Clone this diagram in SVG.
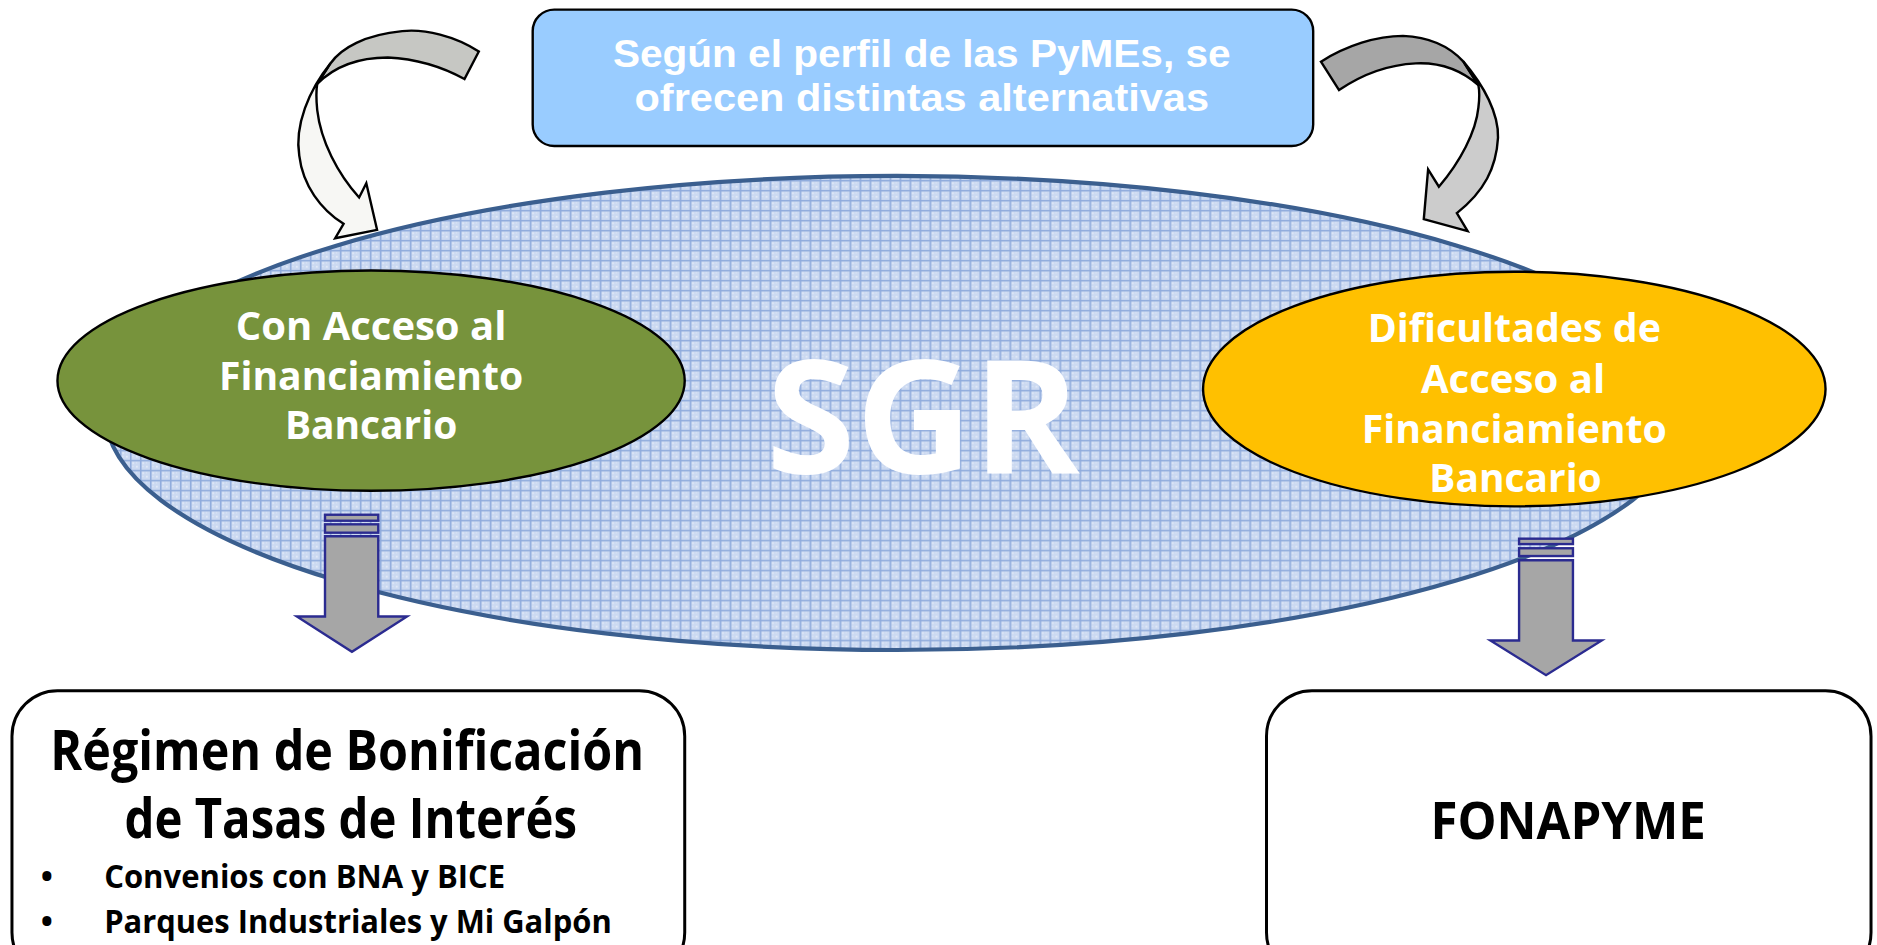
<svg xmlns="http://www.w3.org/2000/svg" width="1877" height="945" viewBox="0 0 1877 945">
<defs>
<pattern id="grid" patternUnits="userSpaceOnUse" width="8.35" height="8.35">
<rect width="8.35" height="8.35" fill="#cbd9f1"/>
<path d="M2 2h1.5v1.5h-1.5zM5 5h1.5v1.5h-1.5zM5 2h1v1h-1zM2 5h1v1h-1z" fill="#e2eaf8"/>
<path d="M0 0.65H8.35M0.65 0V8.35" stroke="#8fabdc" stroke-width="1.3"/>
</pattern>
<style>
.w{fill:#fff;font-family:"Open Sans","Liberation Sans",sans-serif;font-weight:bold;text-anchor:middle}
.wl{fill:#fff;font-family:"Liberation Sans","Open Sans",sans-serif;font-weight:bold;text-anchor:middle}
.b{fill:#000;font-family:"Open Sans","Liberation Sans",sans-serif;font-weight:bold}
.dn{fill:#a6a6a6;stroke:#2b2b90;stroke-width:2}
.ca{stroke:#000;stroke-width:2;stroke-linejoin:miter}
</style>
</defs>
<rect width="1877" height="945" fill="#fff"/>
<g transform="scale(1.19707)">
<g id="sgr">
<ellipse cx="749" cy="345" rx="661" ry="198" fill="url(#grid)" stroke="#3b5f8f" stroke-width="3.5"/>
<text class="w" x="771" y="395" font-size="132" textLength="262" lengthAdjust="spacingAndGlyphs">SGR</text>
</g>
<g id="top-box">
<rect x="445" y="8" width="652" height="114" rx="18" fill="#99ccff" stroke="#000" stroke-width="2"/>
<text class="wl" x="770" y="56" font-size="32" textLength="516" lengthAdjust="spacingAndGlyphs">Según el perfil de las PyMEs, se</text>
<text class="wl" x="770" y="93" font-size="32" textLength="480" lengthAdjust="spacingAndGlyphs">ofrecen distintas alternativas</text>
</g>
<g id="con-acceso">
<ellipse cx="310" cy="318" rx="262" ry="92" fill="#77933c" stroke="#000" stroke-width="2"/>
<text class="w" x="310" y="284" font-size="33" textLength="226" lengthAdjust="spacingAndGlyphs">Con Acceso al</text>
<text class="w" x="310" y="326" font-size="33" textLength="254" lengthAdjust="spacingAndGlyphs">Financiamiento</text>
<text class="w" x="310" y="367" font-size="33" textLength="144" lengthAdjust="spacingAndGlyphs">Bancario</text>
</g>
<g id="dificultades">
<ellipse cx="1265" cy="325" rx="260" ry="98" fill="#ffc000" stroke="#000" stroke-width="2"/>
<text class="w" x="1265" y="286" font-size="33" textLength="245" lengthAdjust="spacingAndGlyphs">Dificultades de</text>
<text class="w" x="1264" y="328" font-size="33" textLength="154" lengthAdjust="spacingAndGlyphs">Acceso al</text>
<text class="w" x="1265" y="370" font-size="33" textLength="255" lengthAdjust="spacingAndGlyphs">Financiamiento</text>
<text class="w" x="1266" y="411" font-size="33" textLength="144" lengthAdjust="spacingAndGlyphs">Bancario</text>
</g>
<g id="regimen">
<rect x="10" y="577" width="562" height="240" rx="38" fill="#fff" stroke="#000" stroke-width="2.5"/>
<text class="b" x="290" y="643" font-size="46" text-anchor="middle" textLength="496" lengthAdjust="spacingAndGlyphs">Régimen de Bonificación</text>
<text class="b" x="293" y="700" font-size="46" text-anchor="middle" textLength="378" lengthAdjust="spacingAndGlyphs">de Tasas de Interés</text>
<text class="b" x="34" y="742" font-size="27">•</text>
<text class="b" x="87" y="742" font-size="27" textLength="335" lengthAdjust="spacingAndGlyphs">Convenios con BNA y BICE</text>
<text class="b" x="34" y="779" font-size="27">•</text>
<text class="b" x="87" y="779" font-size="27" textLength="424" lengthAdjust="spacingAndGlyphs">Parques Industriales y Mi Galpón</text>
</g>
<g id="fonapyme">
<rect x="1058" y="577" width="505" height="240" rx="38" fill="#fff" stroke="#000" stroke-width="2.5"/>
<text class="b" x="1310" y="701" font-size="44" text-anchor="middle" textLength="230" lengthAdjust="spacingAndGlyphs">FONAPYME</text>
</g>
<g id="connectors">
<path class="ca" fill="#c6c7c3" d="M400,43 C380,30 355,24 336,26 C305,29 285,40 276,53 L265,70 C280,55 300,48 324,48 C345,49 368,55 388,66 Z"/>
<path class="ca" fill="#f7f7f4" d="M276,53 C258,75 246,105 250,130 C253,155 268,175 287,187 L280,199 L315,192 L306,153 L300,165 C282,145 268,118 265,92 C264,82 264,76 265,70 Z"/>
<path class="ca" fill="#a6a6a6" d="M1103.5,51.5 C1125,38 1150,30 1172,30 C1195,31 1212,40 1222.5,51.5 L1235,71 C1220,58 1202,52 1182.8,52.9 C1160,54 1138,62 1118.6,75.2 Z"/>
<path class="ca" fill="#cccccc" d="M1222.5,51.5 C1240,72 1252,95 1251.4,115 C1250,140 1240,160 1217,178 L1226,193 L1189.4,183 L1193,141.5 L1202,156 C1220,135 1233,110 1235,90 C1236,82 1236,76 1235,71 Z"/>
<rect class="dn" x="271.5" y="430" width="44.5" height="5"/>
<rect class="dn" x="271.5" y="438" width="44.5" height="7"/>
<path class="dn" d="M271.5,448 H316 V515 H340 L294,544.5 L248,515 H271.5 Z"/>
<rect class="dn" x="1269" y="450" width="45" height="4.5"/>
<rect class="dn" x="1269" y="458" width="45" height="6.5"/>
<path class="dn" d="M1269,468 H1314 V535 H1338 L1291.5,564 L1245,535 H1269 Z"/>
</g>
</g>
</svg>
